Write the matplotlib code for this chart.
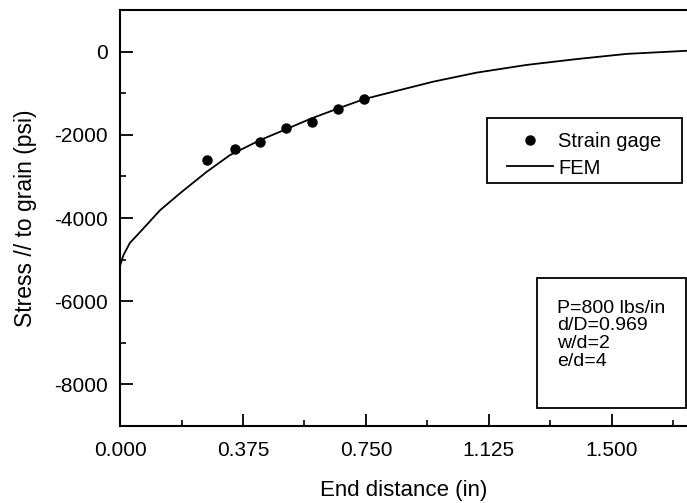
import matplotlib
matplotlib.use("Agg")
import matplotlib.pyplot as plt
from matplotlib.ticker import MultipleLocator, FormatStrFormatter
from matplotlib.patches import Rectangle

plt.rcParams['font.family'] = ['Liberation Sans', 'DejaVu Sans']
plt.rcParams['axes.unicode_minus'] = False

# Data
gage_x = [0.266, 0.351, 0.427, 0.505, 0.584, 0.666, 0.745]
gage_y = [-2610, -2345, -2183, -1846, -1687, -1388, -1140]

fem_x = [0.0, 0.01, 0.03, 0.066, 0.122, 0.188, 0.264, 0.335, 0.427, 0.505,
         0.584, 0.666, 0.745, 0.854, 0.955, 1.087, 1.240, 1.392, 1.545, 1.729]
fem_y = [-5150, -4900, -4600, -4296, -3814, -3373, -2892, -2489, -2128, -1870,
         -1605, -1364, -1140, -923, -723, -506, -320, -180, -55, 20]

x_ticks = [0.000, 0.375, 0.750, 1.125, 1.500]
y_ticks = [0, -2000, -4000, -6000, -8000]
info_lines = ["P=800 lbs/in", "d/D=0.969", "w/d=2", "e/d=4"]

fig = plt.figure(figsize=(6.87, 5.03), dpi=100)
ax = fig.add_axes([0.1747, 0.1531, 0.8253, 0.8270])

ax.plot(fem_x, fem_y, color='black', lw=1.3, label='FEM', zorder=2)
ax.plot(gage_x, gage_y, 'o', color='black', ms=6.5, label='Strain gage', zorder=3)

ax.set_xlim(0, 1.729)
ax.set_ylim(-9000, 1000)
ax.set_xticks(x_ticks)
ax.set_yticks(y_ticks)
ax.xaxis.set_major_formatter(FormatStrFormatter('%.3f'))
ax.xaxis.set_minor_locator(MultipleLocator(0.1875))
ax.yaxis.set_minor_locator(MultipleLocator(1000))
ax.tick_params(which='major', direction='in', length=9, width=1.3, labelsize=15)
ax.tick_params(which='minor', direction='in', length=4.5, width=1.2)
ax.tick_params(axis='y', which='major', pad=9)
ax.tick_params(axis='x', which='major', pad=11)

for s in ['left', 'bottom', 'top']:
    ax.spines[s].set_linewidth(1.5)
ax.spines['right'].set_visible(False)

ax.set_xlabel('End distance (in)', fontsize=16, labelpad=14)
ax.set_ylabel('Stress // to grain (psi)', fontsize=16.5, labelpad=12)

# legend: frameless content + manual frame
handles, labels = ax.get_legend_handles_labels()
leg = ax.legend(handles[::-1], labels[::-1], loc='center left',
                bbox_to_anchor=(0.6825, 0.6514), fontsize=14.5, frameon=False,
                handlelength=2.3, handletextpad=0.25, borderpad=0,
                labelspacing=0.35, borderaxespad=0)
ax.add_patch(Rectangle((0.6473, 0.5841), 0.3439, 0.1563, transform=ax.transAxes,
                       fill=False, edgecolor='black', lw=1.3, zorder=4))

ax.add_patch(Rectangle((0.7354, 0.0433), 0.2626, 0.3125, transform=ax.transAxes,
                       fill=False, edgecolor='black', lw=1.3, zorder=4))
baselines = [0.2728, 0.2296, 0.1870, 0.1447]
for line, yb in zip(info_lines, baselines):
    ax.text(0.7707, yb, line, transform=ax.transAxes, fontsize=14,
            va='baseline', ha='left')

fig.savefig('out.png', dpi=100)
